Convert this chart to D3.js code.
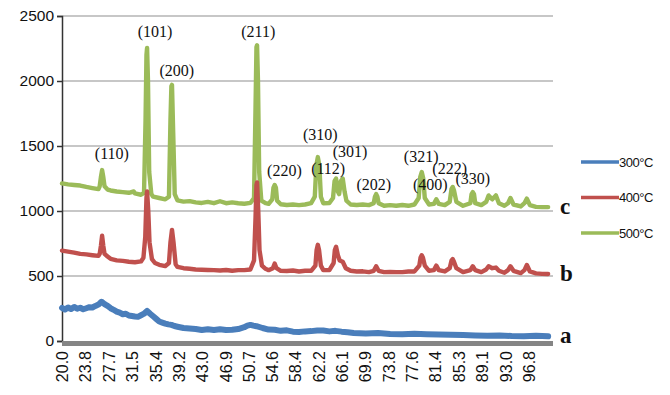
<!DOCTYPE html>
<html>
<head>
<meta charset="utf-8">
<script src="https://cdn.jsdelivr.net/npm/d3@7"></script>
<style>
  body { margin: 0; background: #fff; }
  svg { display: block; }
  .line { fill: none; stroke-linejoin: round; stroke-linecap: round; }
</style>
</head>
<body>
<svg id="xrd" width="670" height="395"></svg>
<script>
// 2theta (deg) / intensity pairs
const s300 = [[20,255],[20.5,242],[21,258],[21.5,246],[22,262],[22.5,248],[23,256],[23.5,244],[24,252],[24.5,260],[25,258],[25.5,270],[26,280],[26.5,302],[27,284],[27.5,270],[28,252],[28.5,240],[29,226],[29.5,218],[30,206],[30.5,210],[31,196],[31.5,192],[32,188],[32.5,186],[33,198],[33.5,210],[34,232],[34.5,210],[35,190],[35.5,170],[36,150],[36.5,142],[37,134],[37.5,128],[38,124],[38.5,115],[39,110],[40,100],[41,96],[42,92],[43,84],[44,90],[45,84],[46,90],[47,84],[48,86],[49,92],[50,106],[50.5,118],[51,124],[51.5,118],[52,114],[53,100],[54,88],[55,86],[56,78],[57,82],[58,72],[59,70],[60,74],[61,76],[62,80],[63,80],[64,74],[65,78],[66,72],[67,68],[68,62],[69,60],[70,58],[72,62],[74,54],[76,52],[78,56],[80,52],[82,50],[84,48],[86,46],[88,42],[90,40],[92,43],[94,38],[96,36],[98,40],[100,36]];

const s400 = [[20,695],[21,688],[22,680],[23,670],[24,666],[25,660],[26,655],[26.2,670],[26.4,730],[26.6,810],[26.8,730],[27.0,670],[27.5,650],[28,632],[29,620],[30,616],[31,610],[32,606],[33,612],[33.4,640],[33.7,800],[33.9,1100],[34.0,1150],[34.2,1000],[34.4,760],[34.8,630],[35.3,600],[36,586],[37,576],[37.6,600],[37.85,760],[38.1,855],[38.35,760],[38.7,590],[39,570],[40,560],[41,556],[42,550],[43,548],[44,546],[45,545],[46,542],[47,546],[48,540],[49,545],[50,545],[51,550],[51.6,620],[51.85,950],[52.0,1200],[52.1,1220],[52.3,1000],[52.5,700],[52.9,580],[53.5,555],[54,545],[54.7,560],[55.0,595],[55.3,560],[56,540],[57,538],[58,542],[59,535],[60,540],[61,540],[61.7,580],[61.9,700],[62.1,740],[62.3,700],[62.6,580],[63,545],[64,546],[64.7,600],[64.9,700],[65.1,725],[65.4,660],[65.7,620],[66.2,610],[66.7,560],[67.5,540],[68.5,535],[69.5,536],[70.5,530],[71.3,540],[71.7,575],[72.1,540],[73,530],[74,532],[75,530],[76,530],[77,535],[78,535],[78.8,580],[79.0,640],[79.2,660],[79.4,640],[79.7,580],[80.4,540],[81.2,545],[81.6,580],[82.0,545],[83,535],[83.8,560],[84.1,620],[84.3,630],[84.5,610],[84.9,560],[86,530],[87.2,545],[87.6,575],[88.0,545],[89,530],[89.8,550],[90.2,575],[90.8,560],[91.4,565],[91.9,540],[92.8,525],[93.4,545],[93.8,575],[94.3,540],[95.5,522],[96.1,545],[96.5,585],[97,535],[98,520],[99,516],[100,515]];

const s500 = [[20,1212],[21,1205],[22,1200],[23,1196],[24,1185],[25,1176],[26,1168],[26.2,1190],[26.4,1260],[26.6,1315],[26.8,1260],[27.0,1190],[27.5,1165],[28,1158],[29,1150],[30,1145],[31,1140],[31.8,1150],[32,1135],[33,1125],[33.5,1140],[33.75,1700],[33.9,2200],[34.0,2255],[34.15,2000],[34.35,1300],[34.7,1130],[35,1110],[36,1100],[37,1090],[37.6,1110],[37.85,1700],[38.0,1960],[38.1,1970],[38.3,1600],[38.55,1130],[39,1082],[40,1072],[41,1076],[42,1066],[43,1062],[44,1070],[45,1060],[46,1075],[47,1060],[48,1066],[49,1060],[50,1056],[51,1062],[51.6,1100],[51.85,1800],[52.0,2260],[52.1,2275],[52.25,2000],[52.45,1300],[52.8,1080],[53.5,1060],[54,1055],[54.6,1090],[54.8,1180],[55.0,1200],[55.2,1180],[55.4,1080],[56,1052],[57,1046],[58,1050],[59,1045],[60,1050],[61,1060],[61.6,1110],[61.85,1350],[62.1,1415],[62.35,1350],[62.6,1110],[63,1060],[64,1062],[64.6,1100],[64.85,1230],[65.1,1250],[65.4,1150],[65.6,1130],[65.9,1230],[66.2,1250],[66.5,1150],[66.8,1080],[67.5,1050],[68.5,1046],[69.5,1050],[70.5,1045],[71.3,1060],[71.5,1110],[71.7,1130],[71.9,1110],[72.1,1060],[73,1040],[74,1045],[75,1040],[76,1046],[77,1040],[78,1050],[78.7,1100],[78.95,1260],[79.2,1300],[79.45,1250],[79.7,1100],[80.4,1050],[81.2,1055],[81.6,1090],[82.0,1055],[83,1045],[83.8,1070],[84.1,1170],[84.3,1185],[84.5,1160],[84.9,1070],[86,1040],[87.2,1060],[87.4,1130],[87.6,1145],[87.8,1130],[88.0,1060],[89,1045],[89.8,1070],[90.2,1120],[90.8,1090],[91.4,1120],[91.9,1060],[92.8,1040],[93.4,1060],[93.8,1100],[94.3,1050],[95.5,1035],[96.1,1060],[96.5,1095],[97,1045],[98,1032],[99,1030],[100,1030]];

const seriesNames = ["300°C", "400°C", "500°C"];
const seriesColors = ["#4a7ebb", "#c0504d", "#9bbb59"];
const curveTags = ["a", "b", "c"];

const xTicks = [20.0, 23.8, 27.7, 31.5, 35.4, 39.2, 43.0, 46.9, 50.7, 54.6, 58.4, 62.2, 66.1, 69.9, 73.8, 77.6, 81.4, 85.3, 89.1, 93.0, 96.8];
const yTicks = [0, 500, 1000, 1500, 2000, 2500];

// (hkl) labels: [text, 2theta, intensity where the label sits]
const peakLabels = [["(110)", 28.2, 1400], ["(101)", 35.3, 2335], ["(200)", 38.9, 2035], ["(211)", 52.3, 2335],
  ["(220)", 56.6, 1270], ["(310)", 62.5, 1545], ["(112)", 63.8, 1285], ["(301)", 67.4, 1415],
  ["(202)", 71.3, 1160], ["(321)", 79.1, 1380], ["(400)", 80.6, 1160], ["(222)", 83.8, 1285], ["(330)", 87.6, 1210]];

const svg = d3.select("#xrd");
const margin = {top: 16, left: 62, right: 117, bottom: 54};
const width = 670 - margin.left - margin.right,
    height = 395 - margin.top - margin.bottom;

const x = d3.scaleLinear().domain([20, 100.8]).range([0, width]);
const y = d3.scaleLinear().domain([0, 2500]).range([height, 0]);

const g = svg.append("g")
    .attr("transform", "translate(" + margin.left + "," + margin.top + ")");

// horizontal grid
g.append("g")
    .selectAll("line")
    .data(yTicks.slice(1))
    .enter().append("line")
    .attr("x1", 0).attr("x2", width)
    .attr("y1", d => y(d)).attr("y2", d => y(d))
    .attr("stroke", "#b4b4b4").attr("stroke-width", 1.5);

// y axis
const yAxis = g.append("g")
    .call(d3.axisLeft(y).tickValues(yTicks).tickSize(5).tickPadding(3).tickFormat(d3.format("d")));
yAxis.select(".domain").attr("stroke", "#333").attr("stroke-width", 1.5);
yAxis.selectAll(".tick line").attr("stroke", "#333").attr("stroke-width", 1.5);
yAxis.selectAll("text")
    .style("font-family", "'Liberation Sans', Arial, sans-serif")
    .style("font-size", "15.5px")
    .attr("fill", "#111");

// x axis: thick grey band + rotated labels
const xAxis = g.append("g")
    .attr("transform", "translate(0," + height + ")")
    .call(d3.axisBottom(x).tickValues(xTicks).tickSize(0).tickFormat(d3.format(".1f")));
xAxis.select(".domain").remove();
xAxis.append("line")
    .attr("x1", 0).attr("x2", width)
    .attr("y1", 2.5).attr("y2", 2.5)
    .attr("stroke", "#858585").attr("stroke-width", 5);
xAxis.selectAll(".tick text")
    .attr("transform", "translate(0,10) rotate(-90)")
    .attr("x", 0).attr("y", 0).attr("dy", "0.35em")
    .style("text-anchor", "end")
    .style("font-family", "'Liberation Sans', Arial, sans-serif")
    .style("font-size", "16px")
    .attr("fill", "#111");

const line = d3.line()
    .x(d => x(d[0]))
    .y(d => y(d[1]));

const allSeries = [s300, s400, s500];
const lineWidths = [6, 4.4, 4.4];
// 500 first so the 400 peaks show through it like in the figure
[2, 1, 0].forEach(i => {
  g.append("path")
      .datum(allSeries[i])
      .attr("class", "line")
      .attr("stroke", seriesColors[i])
      .attr("stroke-width", lineWidths[i])
      .attr("d", line);
});

// peak indices
g.selectAll(".hkl")
    .data(peakLabels)
    .enter().append("text")
    .attr("class", "hkl")
    .attr("x", d => x(d[1]))
    .attr("y", d => y(d[2]))
    .attr("text-anchor", "middle")
    .style("font-family", "'Liberation Serif', 'Times New Roman', serif")
    .style("font-size", "16px")
    .attr("fill", "#111")
    .text(d => d[0]);

// a / b / c tags at the end of each curve
g.selectAll(".tag")
    .data(curveTags)
    .enter().append("text")
    .attr("class", "tag")
    .attr("x", width + 7)
    .attr("y", (d, i) => y(allSeries[i][allSeries[i].length - 1][1]) + 7)
    .style("font-family", "'Liberation Serif', 'Times New Roman', serif")
    .style("font-size", "23px")
    .style("font-weight", "bold")
    .attr("fill", "#111")
    .text(d => d);

// legend
const legend = svg.append("g").attr("transform", "translate(581,162)");
seriesNames.forEach((name, i) => {
  const row = legend.append("g").attr("transform", "translate(0," + (i * 35.5) + ")");
  row.append("line")
      .attr("x1", 0).attr("x2", 38)
      .attr("stroke", seriesColors[i]).attr("stroke-width", 3.6);
  row.append("text")
      .attr("x", 38).attr("y", 0).attr("dy", "0.35em")
      .style("font-family", "'Liberation Sans', Arial, sans-serif")
      .style("font-size", "13px")
      .style("letter-spacing", "-0.5px")
      .attr("fill", "#111")
      .text(name);
});
</script>
</body>
</html>
